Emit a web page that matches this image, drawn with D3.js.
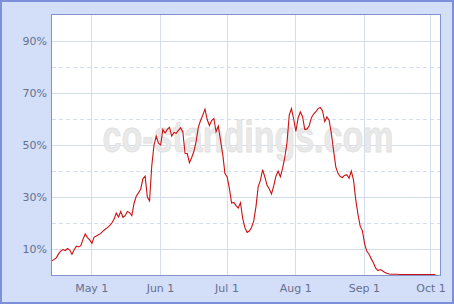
<!DOCTYPE html>
<html>
<head>
<meta charset="utf-8">
<script src="https://cdn.jsdelivr.net/npm/d3@7"></script>
<style>
  body { margin: 0; background: #fff; }
  svg { display: block; }
  .tick text { font-family: "DejaVu Sans", Verdana, sans-serif; font-size: 11px; fill: #66708f; }
</style>
</head>
<body>
<div id="chart"></div>
<script>
var width = 454, height = 304;
var margin = {top: 15, right: 14, bottom: 29, left: 52};

// daily series, starts Apr 13
var startDate = new Date(2011, 3, 13, 7);
var values = [
  5.5, 6.0, 6.7, 8.2, 9.3, 9.8, 9.4, 10.2, 9.6, 8.0,
  9.7, 11.1, 10.8, 11.3, 13.8, 15.8, 14.4, 13.5, 12.2, 14.6,
  15.0, 15.5, 16.0, 16.9, 17.6, 18.2, 19.0, 20.0, 21.5, 23.8,
  22.3, 24.4, 22.2, 22.8, 24.4, 24.0, 22.8, 27.5, 30.3, 31.6,
  33.0, 37.0, 38.0, 30.0, 28.5, 42.0, 50.0, 53.4, 50.7, 50.0,
  56.0, 54.6, 56.0, 56.8, 53.4, 54.8, 54.5, 55.6, 56.6, 55.0,
  46.8, 46.7, 43.2, 45.2, 47.5, 51.3, 56.8, 59.4, 61.5, 63.8,
  59.8, 57.5, 59.4, 60.2, 55.1, 57.3, 51.8, 46.5, 39.0, 37.7,
  33.3, 27.7, 27.9, 26.7, 25.8, 27.8, 21.9, 18.2, 16.4, 16.9,
  18.3, 20.8, 26.3, 34.0, 36.4, 40.5, 37.7, 34.5, 33.1, 31.2,
  34.3, 38.0, 39.9, 37.8, 41.0, 45.2, 51.0, 61.5, 64.0, 60.0,
  55.2, 60.4, 62.7, 61.0, 56.0, 56.1, 57.4, 60.5, 61.9, 62.8,
  64.0, 64.4, 63.2, 59.0, 60.8, 59.5, 54.4, 47.8, 41.6, 39.1,
  37.9, 37.5, 38.4, 38.5, 37.2, 40.0, 36.5, 29.0, 23.3, 18.8,
  17.0, 12.0, 9.1, 8.0, 6.2, 4.6, 2.6, 1.7, 2.1, 1.6,
  1.1, 0.7, 0.4, 0.3, 0.3, 0.3, 0.3, 0.2, 0.2, 0.2,
  0.2, 0.2, 0.2, 0.2, 0.2, 0.2, 0.2, 0.2, 0.2, 0.2,
  0.2, 0.2, 0.2, 0.2
];

var yLabelTicks = [10, 30, 50, 70, 90];
var yDashTicks = [20, 40, 60, 80];
var monthTicks = [
  new Date(2011, 4, 1), new Date(2011, 5, 1), new Date(2011, 6, 1),
  new Date(2011, 7, 1), new Date(2011, 8, 1), new Date(2011, 9, 1)
];

var data = values.map(function(v, i) {
  return {date: d3.timeDay.offset(startDate, i), value: v};
});

var svg = d3.select('#chart').append('svg')
  .attr('width', width)
  .attr('height', height);

// outer frame
svg.append('rect')
  .attr('x', 1).attr('y', 1)
  .attr('width', width - 2).attr('height', height - 2)
  .attr('fill', '#d3def9')
  .attr('stroke', '#7d90da')
  .attr('stroke-width', 2);

var x = d3.scaleTime()
  .domain([startDate, new Date(2011, 9, 5, 7)])
  .range([margin.left, width - margin.right]);

var y = d3.scaleLinear()
  .domain([0, 100])
  .range([height - margin.bottom, margin.top]);

// plot area
svg.append('rect')
  .attr('x', margin.left).attr('y', margin.top)
  .attr('width', width - margin.left - margin.right)
  .attr('height', height - margin.top - margin.bottom)
  .attr('fill', '#fff');

var grid = svg.append('g').attr('class', 'grid');

grid.selectAll('line.h')
  .data(yLabelTicks)
  .enter().append('line')
  .attr('x1', margin.left).attr('x2', width - margin.right)
  .attr('y1', function(d) { return Math.round(y(d)) + 0.5; })
  .attr('y2', function(d) { return Math.round(y(d)) + 0.5; })
  .attr('stroke', '#d3ddee');

grid.selectAll('line.d')
  .data(yDashTicks)
  .enter().append('line')
  .attr('x1', margin.left).attr('x2', width - margin.right)
  .attr('y1', function(d) { return Math.round(y(d)) + 0.5; })
  .attr('y2', function(d) { return Math.round(y(d)) + 0.5; })
  .attr('stroke', '#d3ddee')
  .attr('stroke-dasharray', '4,3');

grid.selectAll('line.v')
  .data(monthTicks)
  .enter().append('line')
  .attr('x1', function(d) { return Math.round(x(d)) + 0.5; })
  .attr('x2', function(d) { return Math.round(x(d)) + 0.5; })
  .attr('y1', margin.top).attr('y2', height - margin.bottom)
  .attr('stroke', '#d3ddee');

// watermark
svg.append('text')
  .attr('x', 248).attr('y', 152)
  .attr('text-anchor', 'middle')
  .attr('font-family', 'Liberation Sans, Arial, sans-serif')
  .attr('font-weight', 'bold')
  .attr('font-size', 34)
  .attr('transform', 'translate(0,-50) scale(1,1.33)')
  .attr('fill', '#e9e9e9')
  .attr('stroke', '#e0e0e0')
  .attr('stroke-width', 0.6)
  .text('co-standings.com');

// line
var line = d3.line()
  .x(function(d) { return x(d.date); })
  .y(function(d) { return y(d.value); });

svg.append('path')
  .datum(data)
  .attr('d', line)
  .attr('fill', 'none')
  .attr('stroke', '#cc1111')
  .attr('stroke-width', 1.1);

// plot border
svg.append('rect')
  .attr('x', margin.left - 0.5).attr('y', margin.top - 0.5)
  .attr('width', width - margin.left - margin.right + 1)
  .attr('height', height - margin.top - margin.bottom + 1)
  .attr('fill', 'none')
  .attr('stroke', '#8093cc');

// axes
var yAxis = d3.axisLeft(y)
  .tickValues(yLabelTicks)
  .tickSize(0)
  .tickPadding(5)
  .tickFormat(function(d) { return d + '%'; });

svg.append('g')
  .attr('transform', 'translate(' + margin.left + ',0)')
  .call(yAxis)
  .call(function(g) { g.select('.domain').remove(); });

var xAxis = d3.axisBottom(x)
  .tickValues(monthTicks)
  .tickSize(0)
  .tickPadding(9)
  .tickFormat(d3.timeFormat('%b %-d'));

svg.append('g')
  .attr('transform', 'translate(0,' + (height - margin.bottom) + ')')
  .call(xAxis)
  .call(function(g) { g.select('.domain').remove(); });
</script>
</body>
</html>
